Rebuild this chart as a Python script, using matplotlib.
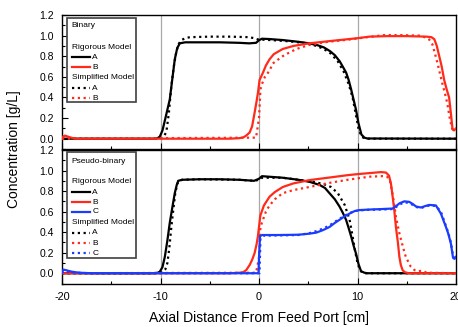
import matplotlib
matplotlib.use("Agg")
import matplotlib.pyplot as plt
from matplotlib.patches import Rectangle
from matplotlib.ticker import MultipleLocator, FormatStrFormatter

plt.rcParams['font.family'] = ['Liberation Sans', 'DejaVu Sans']

# ---------------- Top panel (Binary) ----------------
top_A_rig_x = [-20, -10.8, -10.3, -10.07, -9.8, -9.5, -9.06, -8.8, -8.55, -8.3, -8.04, -7.5, -6, -4, -2, -1, -0.3, 0, 0.3, 1, 2.4, 4, 5.1, 6, 6.6, 7.2, 7.7, 8.2, 8.5, 8.85, 9.1, 9.35, 9.6, 9.85, 10.1, 10.4, 10.7, 11, 20]
top_A_rig_y = [0, 0, 0.005, 0.02, 0.08, 0.2, 0.38, 0.58, 0.77, 0.88, 0.925, 0.935, 0.935, 0.935, 0.93, 0.925, 0.93, 0.955, 0.97, 0.967, 0.957, 0.94, 0.925, 0.905, 0.885, 0.85, 0.81, 0.75, 0.7, 0.64, 0.57, 0.48, 0.38, 0.28, 0.15, 0.04, 0.01, 0.002, 0]

top_A_sim_x = [-20, -10.3, -9.9, -9.6, -9.4, -9.15, -8.9, -8.65, -8.4, -8.15, -7.9, -7.5, -7, -5, -3, -1, -0.5, 0, 0.5, 1.5, 3, 4.5, 5.5, 6.5, 7.3, 8, 8.6, 9.1, 9.5, 9.8, 10.1, 10.4, 10.8, 20]
top_A_sim_y = [0, 0, 0.005, 0.03, 0.07, 0.25, 0.51, 0.7, 0.84, 0.92, 0.955, 0.975, 0.985, 0.99, 0.99, 0.985, 0.975, 0.96, 0.96, 0.955, 0.945, 0.93, 0.91, 0.875, 0.825, 0.75, 0.65, 0.53, 0.4, 0.25, 0.1, 0.02, 0, 0]

top_B_rig_x = [-20, -19.9, -19.7, -19.4, -19, -18.5, -3, -2, -1.6, -1.3, -0.95, -0.7, -0.45, -0.25, -0.1, 0.06, 0.4, 0.7, 1.07, 1.5, 2.4, 3.5, 5.1, 7, 9, 10, 11.2, 13, 15, 17, 17.5, 17.8, 18.05, 18.3, 18.55, 18.8, 19.05, 19.3, 19.5, 19.65, 19.8, 20]
top_B_rig_y = [0.0, 0.02, 0.03, 0.02, 0.008, 0.0, 0.0, 0.005, 0.012, 0.03, 0.06, 0.12, 0.25, 0.36, 0.45, 0.57, 0.64, 0.71, 0.77, 0.82, 0.87, 0.9, 0.925, 0.945, 0.965, 0.975, 0.99, 0.995, 0.995, 0.99, 0.985, 0.965, 0.9, 0.8, 0.7, 0.57, 0.48, 0.4, 0.23, 0.09, 0.08, 0.1]

top_B_sim_x = [-20, -0.3, 0, 0.15, 0.3, 0.6, 1.07, 1.4, 2.4, 2.76, 3.8, 5.1, 7, 9, 11, 12.7, 14.5, 16.3, 17.0, 17.3, 17.6, 17.85, 18.1, 18.35, 18.6, 18.85, 19.1, 19.4, 19.6, 19.8]
top_B_sim_y = [0, 0.01, 0.2, 0.48, 0.53, 0.6, 0.66, 0.73, 0.8, 0.82, 0.87, 0.91, 0.94, 0.96, 0.985, 1.005, 1.005, 1.0, 0.98, 0.96, 0.916, 0.83, 0.74, 0.64, 0.54, 0.45, 0.35, 0.18, 0.1, 0.08]

# ---------------- Bottom panel (Pseudo-binary) ----------------
bot_A_rig_x = [-20, -10.8, -10.3, -10.07, -9.8, -9.56, -9.3, -9.06, -8.8, -8.55, -8.35, -8.2, -7.8, -6, -4, -2, -0.5, 0, 0.3, 1, 2.4, 4, 5.13, 6.15, 6.7, 7.15, 7.7, 8.17, 8.5, 8.84, 9.1, 9.35, 9.6, 9.85, 10.1, 10.36, 10.7, 11, 20]
bot_A_rig_y = [0, 0, 0.004, 0.015, 0.06, 0.16, 0.32, 0.49, 0.64, 0.78, 0.86, 0.9, 0.91, 0.915, 0.915, 0.91, 0.9, 0.92, 0.945, 0.94, 0.93, 0.91, 0.89, 0.86, 0.83, 0.78, 0.72, 0.65, 0.59, 0.52, 0.44, 0.36, 0.27, 0.19, 0.09, 0.02, 0.005, 0, 0]

bot_A_sim_x = [-20, -10.3, -9.8, -9.5, -9.3, -9.1, -8.9, -8.7, -8.5, -8.3, -8.1, -7.8, -6, -2, -0.5, 0, 0.3, 2.4, 4, 5.5, 6.5, 7.3, 8.0, 8.7, 9.2, 9.5, 9.75, 10.0, 10.25, 10.5, 10.8, 20]
bot_A_sim_y = [0, 0, 0.01, 0.04, 0.1, 0.25, 0.45, 0.62, 0.78, 0.87, 0.9, 0.91, 0.915, 0.91, 0.9, 0.91, 0.93, 0.93, 0.91, 0.89, 0.87, 0.84, 0.78, 0.665, 0.52, 0.36, 0.22, 0.1, 0.03, 0.005, 0, 0]

bot_B_rig_x = [-20, -3, -2, -1.6, -1.3, -0.95, -0.7, -0.45, -0.25, -0.11, 0.0, 0.13, 0.5, 1.07, 1.6, 2.42, 3.5, 5.13, 7, 9, 10, 11.2, 12.4, 12.9, 13.2, 13.4, 13.57, 13.75, 13.9, 14.1, 14.25, 14.4, 14.58, 14.8, 15.2, 20]
bot_B_rig_y = [0, 0, 0.005, 0.01, 0.03, 0.08, 0.13, 0.195, 0.28, 0.36, 0.45, 0.56, 0.66, 0.745, 0.79, 0.84, 0.875, 0.907, 0.93, 0.955, 0.965, 0.975, 0.985, 0.98, 0.95, 0.87, 0.745, 0.6, 0.45, 0.3, 0.16, 0.08, 0.03, 0.01, 0, 0]

bot_B_sim_x = [-20, -0.3, 0, 0.15, 0.4, 0.7, 1.07, 1.6, 2.42, 3.5, 5.13, 7.15, 9, 11.2, 12.6, 13.0, 13.3, 13.6, 13.9, 14.25, 14.6, 14.9, 15.4, 15.8, 16.2, 16.6, 17, 20]
bot_B_sim_y = [0, 0.005, 0.15, 0.45, 0.52, 0.6, 0.66, 0.72, 0.78, 0.81, 0.84, 0.88, 0.91, 0.94, 0.946, 0.94, 0.9, 0.75, 0.55, 0.39, 0.26, 0.16, 0.065, 0.03, 0.02, 0.025, 0.005, 0]

bot_C_rig_x = [-20, -19.85, -19.6, -19.3, -19, -18.5, -18, -17, -0.05, 0.0, 0.1, 0.3, 2, 4, 5.1, 5.8, 6.5, 7.15, 7.7, 8.17, 8.7, 9.18, 9.7, 10.2, 11.2, 12.5, 13.57, 14.0, 14.25, 14.75, 15.25, 15.6, 15.94, 16.45, 16.9, 17.3, 17.96, 18.47, 18.98, 19.2, 19.48, 19.7, 19.85, 20]
bot_C_rig_y = [0.01, 0.035, 0.03, 0.022, 0.015, 0.008, 0.004, 0.0, 0.0, 0.15, 0.36, 0.372, 0.372, 0.375, 0.385, 0.395, 0.42, 0.45, 0.49, 0.52, 0.555, 0.58, 0.605, 0.615, 0.62, 0.625, 0.63, 0.66, 0.68, 0.70, 0.695, 0.675, 0.65, 0.64, 0.655, 0.665, 0.66, 0.58, 0.45, 0.39, 0.29, 0.15, 0.14, 0.16]

bot_C_sim_x = [-20, -19.8, -19.5, -19, -18, -17, 0.05, 0.15, 0.4, 2, 4, 5.1, 5.8, 6.5, 7.15, 7.7, 8.17, 8.7, 9.18, 9.7, 10.2, 11.2, 12.5, 13.57, 14.0, 14.3, 14.75, 15.25, 15.6, 15.94, 16.45, 16.9, 17.3, 17.96, 18.47, 18.98, 19.2, 19.48, 19.7, 19.85]
bot_C_sim_y = [0.0, 0.02, 0.015, 0.008, 0.002, 0, 0, 0.34, 0.365, 0.368, 0.372, 0.39, 0.41, 0.435, 0.465, 0.5, 0.53, 0.56, 0.585, 0.605, 0.612, 0.618, 0.62, 0.625, 0.65, 0.67, 0.69, 0.685, 0.665, 0.645, 0.635, 0.65, 0.66, 0.655, 0.6, 0.46, 0.4, 0.3, 0.17, 0.15]

x_ticks = [-20, -10, 0, 10, 20]
y_ticks = [0.0, 0.2, 0.4, 0.6, 0.8, 1.0, 1.2]
guide_x = [-10, 0, 10]

BLACK = '#000000'
RED = '#ff2a1a'
BLUE = '#1a3cff'
DOT = (0, (1.0, 1.6))
LW = 1.6

W, H = 458, 327
fig = plt.figure(figsize=(W / 100, H / 100), dpi=100)
left = 62 / W
width = (456 - 62) / W
ax1 = fig.add_axes([left, 1 - 149 / H, width, 134 / H])
ax2 = fig.add_axes([left, 1 - 283.5 / H, width, 133.5 / H])

for ax in (ax1, ax2):
    for gx in guide_x:
        ax.axvline(gx, color='#a8a8a8', lw=0.9, zorder=1)
    ax.set_xlim(-20, 20)
    ax.set_ylim(-0.1, 1.2)
    ax.set_xticks(x_ticks)
    ax.set_yticks(y_ticks)
    ax.xaxis.set_minor_locator(MultipleLocator(5))
    ax.yaxis.set_minor_locator(MultipleLocator(0.1))
    ax.yaxis.set_major_formatter(FormatStrFormatter('%.1f'))
    ax.tick_params(which='both', direction='in', top=False, right=False, width=0.8)
    ax.tick_params(which='major', length=4)
    ax.tick_params(which='minor', length=2.5)
    ax.tick_params(axis='y', labelsize=7.5, pad=6)
    ax.tick_params(axis='x', labelsize=7.8, pad=6)
    for s in ax.spines.values():
        s.set_linewidth(1.0)

ax1.tick_params(axis='x', labelbottom=False)
ax2.set_xticklabels([str(v) for v in x_ticks])

# top panel curves
ax1.plot(top_A_rig_x, top_A_rig_y, color=BLACK, lw=LW, zorder=3)
ax1.plot(top_A_sim_x, top_A_sim_y, color=BLACK, lw=LW, ls=DOT, zorder=3)
ax1.plot(top_B_rig_x, top_B_rig_y, color=RED, lw=LW, zorder=4)
ax1.plot(top_B_sim_x, top_B_sim_y, color=RED, lw=LW, ls=DOT, zorder=4)

# bottom panel curves
ax2.plot(bot_A_rig_x, bot_A_rig_y, color=BLACK, lw=LW, zorder=3)
ax2.plot(bot_A_sim_x, bot_A_sim_y, color=BLACK, lw=LW, ls=DOT, zorder=3)
ax2.plot(bot_B_rig_x, bot_B_rig_y, color=RED, lw=LW, zorder=4)
ax2.plot(bot_B_sim_x, bot_B_sim_y, color=RED, lw=LW, ls=DOT, zorder=4)
ax2.plot(bot_C_rig_x, bot_C_rig_y, color=BLUE, lw=LW, zorder=5)
ax2.plot(bot_C_sim_x, bot_C_sim_y, color=BLUE, lw=LW, ls=DOT, zorder=5)


def draw_legend(ax, box, rows):
    x0, y0, x1, y1 = box
    ax.add_patch(Rectangle((x0, y0), x1 - x0, y1 - y0, transform=ax.transAxes,
                           facecolor='white', edgecolor='#404040', lw=1.2, zorder=6))
    tx = 0.0246
    for (y, label, color, ls) in rows:
        if color is None:
            ax.text(tx, y, label, transform=ax.transAxes, fontsize=6, va='center',
                    ha='left', zorder=7)
        else:
            ax.plot([tx, 0.071], [y, y], transform=ax.transAxes, color=color, lw=LW,
                    ls=ls, zorder=7, clip_on=False)
            ax.text(0.077, y, label, transform=ax.transAxes, fontsize=6, va='center',
                    ha='left', zorder=7)


draw_legend(ax1, (0.0127, 0.351, 0.188, 0.978), [
    (0.918, 'Binary', None, None),
    (0.759, 'Rigorous Model', None, None),
    (0.684, 'A', BLACK, '-'),
    (0.610, 'B', RED, '-'),
    (0.535, 'Simplified Model', None, None),
    (0.453, 'A', BLACK, DOT),
    (0.378, 'B', RED, DOT),
])

draw_legend(ax2, (0.0127, 0.191, 0.188, 0.985), [
    (0.915, 'Pseudo-binary', None, None),
    (0.765, 'Rigorous Model', None, None),
    (0.685, 'A', BLACK, '-'),
    (0.610, 'B', RED, '-'),
    (0.536, 'C', BLUE, '-'),
    (0.460, 'Simplified Model', None, None),
    (0.380, 'A', BLACK, DOT),
    (0.300, 'B', RED, DOT),
    (0.226, 'C', BLUE, DOT),
])

fig.text(259 / W, 1 - 318 / H, 'Axial Distance From Feed Port [cm]', fontsize=10,
         ha='center', va='center')
fig.text(14.5 / W, 1 - 149 / H, 'Concentration [g/L]', fontsize=10, rotation=90,
         ha='center', va='center')

fig.savefig('out.png', dpi=100)
